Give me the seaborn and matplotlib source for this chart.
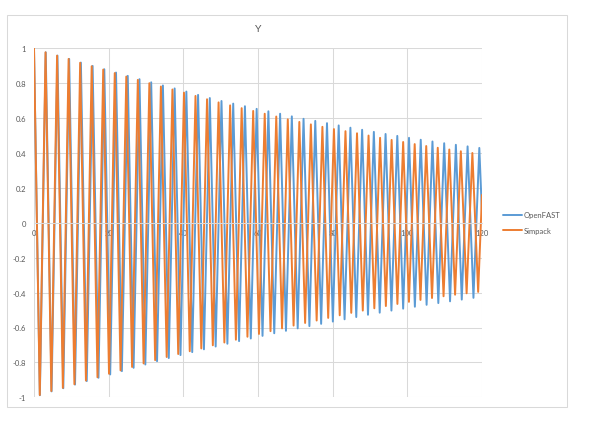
import matplotlib
matplotlib.use("Agg")
import matplotlib.pyplot as plt
import seaborn as sns
import pandas as pd
from matplotlib.patches import Rectangle
from matplotlib.lines import Line2D

# series: times (s) and values of every crest / trough
series_names = ["OpenFAST", "Simpack"]
series_colors = ["#5B9BD5", "#ED7D31"]

openfast_peak_t = [0, 3.14, 6.28, 9.42, 12.56, 15.70, 18.83, 21.97, 25.11, 28.25,
                   31.39, 34.53, 37.67, 40.81, 43.95, 47.09, 50.22, 53.36, 56.50, 59.64,
                   62.78, 65.92, 69.06, 72.20, 75.34, 78.48, 81.61, 84.75, 87.89, 91.03,
                   94.17, 97.31, 100.45, 103.59, 106.73, 109.87, 113.00, 116.14, 119.28]
openfast_peak_y = [1.0, .977, .958, .939, .918, .899, .880, .861, .842, .823,
                   .805, .787, .770, .752, .733, .715, .698, .683, .668, .653,
                   .639, .625, .610, .596, .584, .571, .558, .545, .533, .521,
                   .509, .498, .487, .476, .466, .456, .447, .438, .429]
openfast_trough_t = [1.57, 4.71, 7.85, 10.99, 14.13, 17.27, 20.41, 23.54, 26.68, 29.82,
                     32.96, 36.10, 39.24, 42.38, 45.52, 48.66, 51.80, 54.93, 58.07, 61.21,
                     64.35, 67.49, 70.63, 73.77, 76.91, 80.05, 83.19, 86.32, 89.46, 92.60,
                     95.74, 98.88, 102.02, 105.16, 108.30, 111.44, 114.58, 117.71]
openfast_trough_y = [-.988, -.966, -.948, -.927, -.907, -.888, -.869, -.850, -.831, -.812,
                     -.793, -.775, -.758, -.741, -.725, -.709, -.693, -.678, -.663, -.648,
                     -.633, -.619, -.605, -.592, -.579, -.566, -.553, -.540, -.527, -.515,
                     -.503, -.492, -.481, -.470, -.460, -.450, -.440, -.430]

simpack_peak_t = [0, 3.09, 6.18, 9.27, 12.36, 15.45, 18.54, 21.63, 24.72, 27.81,
                  30.90, 33.99, 37.08, 40.17, 43.26, 46.35, 49.44, 52.53, 55.62, 58.71,
                  61.80, 64.89, 67.98, 71.07, 74.16, 77.25, 80.34, 83.43, 86.52, 89.61,
                  92.70, 95.79, 98.88, 101.97, 105.06, 108.15, 111.24, 114.33, 117.42]
simpack_peak_y = [1.0, .977, .958, .939, .917, .897, .878, .858, .838, .819,
                  .800, .781, .764, .746, .727, .708, .690, .673, .657, .641,
                  .625, .609, .593, .578, .564, .550, .537, .525, .513, .500,
                  .487, .475, .463, .451, .440, .430, .420, .410, .400]
simpack_trough_t = [1.55, 4.64, 7.73, 10.82, 13.91, 17.00, 20.09, 23.18, 26.27, 29.36,
                    32.45, 35.54, 38.63, 41.72, 44.81, 47.90, 50.99, 54.08, 57.17, 60.26,
                    63.35, 66.44, 69.53, 72.62, 75.71, 78.80, 81.89, 84.98, 88.07, 91.16,
                    94.25, 97.34, 100.43, 103.52, 106.61, 109.70, 112.79, 115.88, 118.97]
simpack_trough_y = [-.987, -.964, -.946, -.925, -.904, -.885, -.865, -.846, -.826, -.806,
                    -.787, -.769, -.752, -.736, -.720, -.702, -.686, -.670, -.653, -.637,
                    -.621, -.605, -.589, -.574, -.560, -.545, -.530, -.516, -.503, -.490,
                    -.477, -.465, -.453, -.442, -.431, -.421, -.412, -.404, -.396]

end_t = 120.0
openfast_end_y = 0.05
simpack_end_y = 0.16

x_ticks = [0, 20, 40, 60, 80, 100, 120]
y_ticks = [-1, -0.8, -0.6, -0.4, -0.2, 0, 0.2, 0.4, 0.6, 0.8, 1]
y_tick_labels = ["-1", "-0.8", "-0.6", "-0.4", "-0.2", "0", "0.2", "0.4", "0.6", "0.8", "1"]


def build_frame():
    parts = []
    for name, pt, py, tt, ty, ey in [
        ("OpenFAST", openfast_peak_t, openfast_peak_y, openfast_trough_t, openfast_trough_y, openfast_end_y),
        ("Simpack", simpack_peak_t, simpack_peak_y, simpack_trough_t, simpack_trough_y, simpack_end_y),
    ]:
        df = pd.DataFrame({"t": pt + tt + [end_t], "y": py + ty + [ey]})
        df["series"] = name
        parts.append(df.sort_values("t"))
    return pd.concat(parts, ignore_index=True)


data = build_frame()

sns.set_theme(style="white")
plt.rcParams["font.family"] = ["Lato", "DejaVu Sans"]
plt.rcParams["lines.solid_joinstyle"] = "round"

fig = plt.figure(figsize=(5.92, 4.35), dpi=100)
ax = fig.add_axes([34 / 592, 1 - 398.3 / 435, 448 / 592, 349 / 435])

sns.lineplot(data=data, x="t", y="y", hue="series", hue_order=series_names,
             palette=dict(zip(series_names, series_colors)), estimator=None,
             sort=True, linewidth=1.4, legend=False, ax=ax)

ax.set_xlim(0, 120)
ax.set_ylim(-1, 1)
ax.set_xticks(x_ticks)
ax.set_xticklabels([str(v) for v in x_ticks])
ax.set_yticks(y_ticks)
ax.set_yticklabels(y_tick_labels)
ax.set_xlabel("")
ax.set_ylabel("")
ax.grid(True, color="#D9D9D9", linewidth=0.75)
ax.set_axisbelow(True)
for s in ["top", "right", "left"]:
    ax.spines[s].set_visible(False)
ax.spines["bottom"].set_position(("data", 0))
ax.spines["bottom"].set_color("#D9D9D9")
ax.spines["bottom"].set_linewidth(0.75)
ax.tick_params(axis="x", length=0, pad=4.5, labelsize=5.5, labelcolor="#595959")
ax.tick_params(axis="y", length=0, pad=5.5, labelsize=5.5, labelcolor="#595959")

fig.text(258 / 592, 1 - 30 / 435, "Y", ha="center", va="center",
         fontsize=7.5, color="#595959")

handles = [Line2D([], [], color=c, linewidth=1.4) for c in series_colors]
fig.legend(handles, series_names, loc="center left",
           bbox_to_anchor=(503 / 592, 1 - 223.7 / 435), frameon=False,
           fontsize=5.5, handlelength=2.5, handletextpad=0.2, labelspacing=1.1,
           borderpad=0, borderaxespad=0, labelcolor="#595959")

fig.patches.append(Rectangle((7 / 592, 1 - 408 / 435), 560 / 592, 392.5 / 435,
                             transform=fig.transFigure, fill=False,
                             edgecolor="#D9D9D9", linewidth=0.75))

fig.savefig("out.png", dpi=100)
